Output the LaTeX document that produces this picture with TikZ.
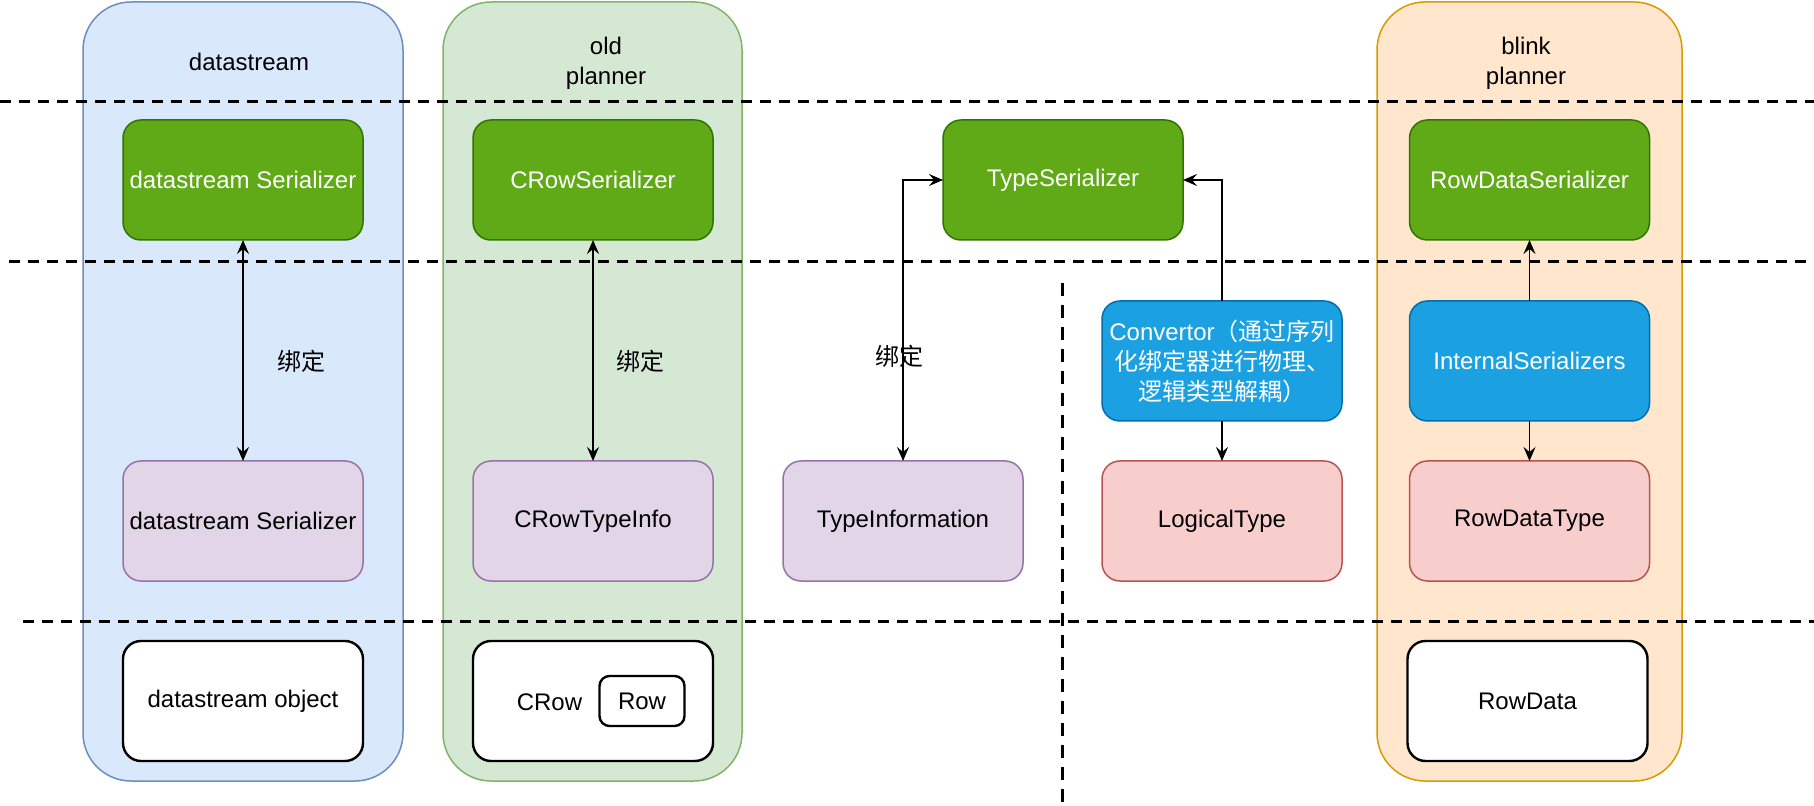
\documentclass[tikz,border=0pt]{standalone}
\usepackage{fontspec}
\setmainfont{Liberation Sans}
\newfontfamily\cjk{Noto Sans CJK SC}
\usepackage{xcolor}
\usepackage{tikz}
\usetikzlibrary{positioning, arrows.meta}

\definecolor{laneblue}{HTML}{DAE8FC}
\definecolor{laneblueline}{HTML}{6C8EBF}
\definecolor{lanegreen}{HTML}{D5E8D4}
\definecolor{lanegreenline}{HTML}{82B366}
\definecolor{laneorange}{HTML}{FFE6CC}
\definecolor{laneorangeline}{HTML}{D79B00}
\definecolor{sergreen}{HTML}{60A917}
\definecolor{sergreenline}{HTML}{2D7600}
\definecolor{infopurple}{HTML}{E1D5E7}
\definecolor{infopurpleline}{HTML}{9673A6}
\definecolor{typered}{HTML}{F8CECC}
\definecolor{typeredline}{HTML}{B85450}
\definecolor{convblue}{HTML}{1BA1E2}
\definecolor{convblueline}{HTML}{006EAF}

\begin{document}
\begin{tikzpicture}[
      x=0.5pt, y=-0.5pt,
      every node/.style={font=\fontsize{12}{15}\selectfont, outer sep=0pt},
      lane/.style={draw, rounded corners=24pt, line width=0.75pt, minimum height=389.5pt},
      box/.style={draw, rounded corners=9pt, line width=0.75pt, minimum width=120pt, minimum height=60pt, align=center, inner sep=2pt},
      serbox/.style={box, fill=sergreen, draw=sergreenline, text=white},
      infobox/.style={box, fill=infopurple, draw=infopurpleline},
      convbox/.style={box, fill=convblue, draw=convblueline, text=white},
      typebox/.style={box, fill=typered, draw=typeredline},
      objbox/.style={box, fill=white, draw=black, line width=1.2pt},
      link/.style={line width=0.8pt, >={Stealth[length=7pt, width=6pt, inset=2.5pt]}},
      divider/.style={line width=1.5pt, dash pattern=on 5.5pt off 4pt}
    ]
      \useasboundingbox (0,0) rectangle (1814,806);

      % Lanes
      \node[lane, fill=laneblue, draw=laneblueline, minimum width=160pt] (dslane) at (243,391.5) {};
      \node[lane, fill=lanegreen, draw=lanegreenline, minimum width=149.5pt] (oldlane) at (592.5,391.5) {};
      \node[lane, fill=laneorange, draw=laneorangeline, minimum width=152.5pt] (blinklane) at (1529.5,391.5) {};
      \node (dstitle) at (249,62) {datastream};
      \node[align=center] (oldtitle) at (606,63) {old\\planner};
      \node[align=center] (blinktitle) at (1526,63) {blink\\planner};

      % Dividers
      \draw[divider] (0,102) -- (1814,102);
      \draw[divider] (9,261.5) -- (1814,261.5);
      \draw[divider] (23,621) -- (1814,621);
      \draw[line width=1.5pt, dash pattern=on 6.5pt off 4.5pt] (1062,283) -- (1062,806);

      % Serializers
      \node[serbox] (dsser) at (243,180) {datastream Serializer};
      \node[serbox] (crowser) at (593,180) {CRowSerializer};
      \node[serbox] (typeser) at (1063,180) {TypeSerializer};
      \node[serbox] (rdser) at (1529.5,180) {RowDataSerializer};

      % Converters
      \node[convbox] (conv) at (1222,361) {Convertor{\cjk （通过序列}\\{\cjk 化绑定器进行物理、}\\{\cjk 逻辑类型解耦）}};
      \node[convbox] (intser) at (1529.5,361) {InternalSerializers};

      % Type infos
      \node[infobox] (dsinfo) at (243,521) {datastream Serializer};
      \node[infobox] (crowinfo) at (593,521) {CRowTypeInfo};
      \node[infobox] (typeinfo) at (903,521) {TypeInformation};
      \node[typebox] (logtype) at (1222,521) {LogicalType};
      \node[typebox] (rdtype) at (1529.5,521) {RowDataType};

      % Objects
      \node[objbox] (dsobj) at (243,701) {datastream object};
      \node[objbox] (crow) at (593,701) {};
      \node (crowtext) at (549.5,702) {CRow};
      \node[draw, line width=1.2pt, rounded corners=5pt, minimum width=42.5pt, minimum height=25pt] (row) at (642,701) {Row};
      \node[objbox] (rowdata) at (1527.5,701) {RowData};

      % Links
      \draw[link, <->] (dsser) -- (dsinfo);
      \draw[link, <->] (crowser) -- (crowinfo);
      \draw[link, <->] (typeinfo) |- (typeser);
      \draw[link, ->] (conv) |- (typeser);
      \draw[link, ->] (conv) -- (logtype);
      \draw[link, ->] (intser) -- (rdser);
      \draw[link, ->] (intser) -- (rdtype);
      \node[font=\cjk\fontsize{12}{15}\selectfont] (bind1) at (301,361) {绑定};
      \node[font=\cjk\fontsize{12}{15}\selectfont] (bind2) at (640,361) {绑定};
      \node[font=\cjk\fontsize{12}{15}\selectfont] (bind3) at (899,356) {绑定};
    \end{tikzpicture}
\end{document}
